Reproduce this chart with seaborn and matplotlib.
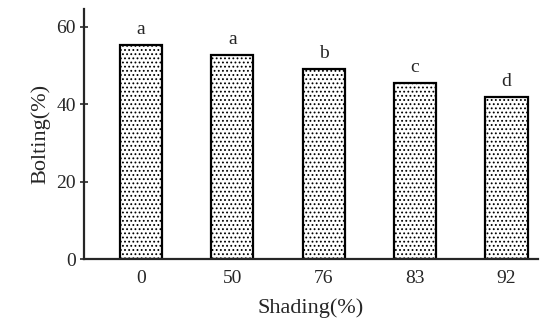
import numpy as np
import pandas as pd
import matplotlib
matplotlib.use('Agg')
import matplotlib.pyplot as plt
import seaborn as sns

shading = ['0', '50', '76', '83', '92']
bolting = [55.3, 52.8, 49.0, 45.4, 42.0]
letters = ['a', 'a', 'b', 'c', 'd']

df = pd.DataFrame({'shading': shading, 'bolting': bolting})

sns.set_style('ticks')
plt.rcParams['font.family'] = ['Liberation Serif', 'DejaVu Serif']
plt.rcParams['hatch.linewidth'] = 0.8
plt.rcParams['hatch.color'] = '#222222'

fig = plt.figure(figsize=(5.43, 3.23), dpi=100)
ax = fig.add_axes([0.155, 0.198, 0.835, 0.774])

sns.barplot(data=df, x='shading', y='bolting', order=shading, color='white',
            edgecolor='black', linewidth=1.6, width=0.46, ax=ax)
for p in ax.patches:
    p.set_hatch('....')

for i, (v, t) in enumerate(zip(bolting, letters)):
    ax.text(i, v + 1.8, t, ha='center', va='bottom', fontsize=14)

ax.set_xlim(-0.62, 4.34)
ax.set_ylim(0, 64.6)
ax.set_yticks([0, 20, 40, 60])
ax.set_xlabel('Shading(%)', fontsize=16, labelpad=8)
ax.set_ylabel('Bolting(%)', fontsize=16)
ax.tick_params(axis='y', direction='inout', length=6, width=1.2, labelsize=14, pad=3)
ax.tick_params(axis='x', length=0, labelsize=14, pad=8)
for s in ['top', 'right']:
    ax.spines[s].set_visible(False)
for s in ['left', 'bottom']:
    ax.spines[s].set_linewidth(1.6)

fig.savefig('out.png', dpi=100)
